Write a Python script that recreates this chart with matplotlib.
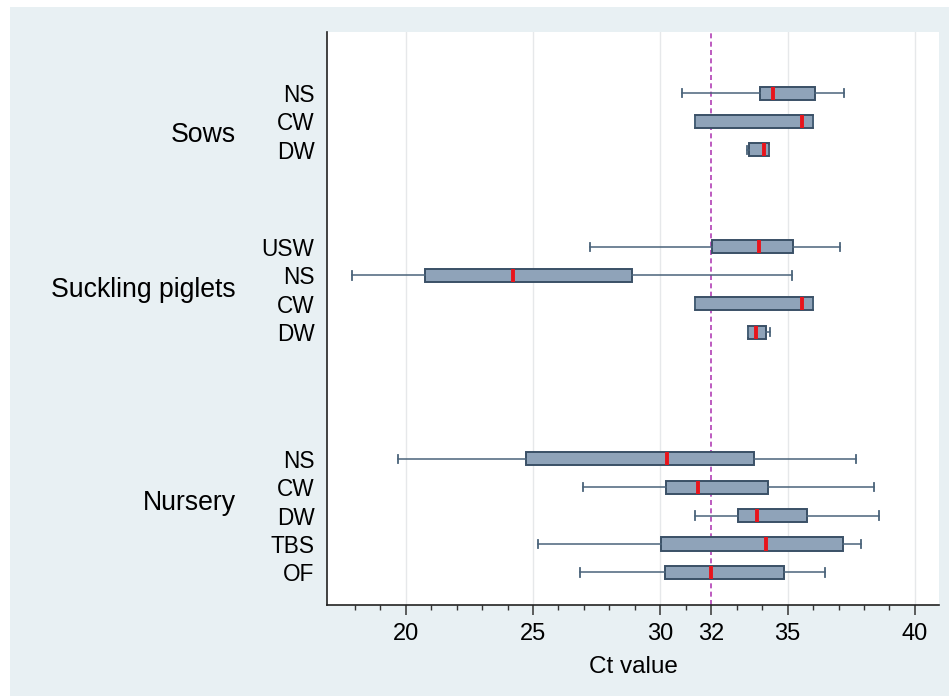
import numpy as np
import matplotlib.pyplot as plt
from matplotlib.patches import Rectangle

plt.rcParams['font.family'] = ['Liberation Sans', 'DejaVu Sans']

# groups and the sample types inside each group (top to bottom)
groups = ['Sows', 'Suckling piglets', 'Nursery']
group_rows = [['NS', 'CW', 'DW'],
              ['USW', 'NS', 'CW', 'DW'],
              ['NS', 'CW', 'DW', 'TBS', 'OF']]

# box statistics of the Ct values, one entry per row in the same order
whislo = [30.84, 31.37, 33.40, 27.24, 17.90, 31.37, 33.43, 19.71, 26.96, 31.38, 25.19, 26.86]
q1     = [33.92, 31.37, 33.49, 32.03, 20.74, 31.37, 33.43, 24.72, 30.23, 33.06, 30.02, 30.18]
median = [34.42, 35.58, 34.08, 33.88, 24.23, 35.57, 33.76, 30.25, 31.47, 33.80, 34.14, 31.98]
q3     = [36.09, 35.99, 34.26, 35.23, 28.88, 35.99, 34.14, 33.66, 34.22, 35.75, 37.17, 34.85]
whishi = [37.22, 35.99, 34.26, 37.07, 35.19, 35.99, 34.29, 37.68, 38.40, 38.57, 37.89, 36.48]

cutoff = 32
major_ticks = [20, 25, 30, 32, 35, 40]

# layout
group_start = [0, 5.42, 12.88]
group_label_y = [1.48, 6.94, 14.42]

positions = []
labels = []
for start, rows in zip(group_start, group_rows):
    for i, r in enumerate(rows):
        positions.append(start + i)
        labels.append(r)

stats = []
for i in range(len(positions)):
    stats.append(dict(whislo=whislo[i], q1=q1[i], med=median[i], q3=q3[i],
                      whishi=whishi[i], fliers=[]))

fig = plt.figure(figsize=(9.49, 6.96), dpi=100, facecolor='white')
fig.patches.append(Rectangle((10 / 949, 0), 1, 1 - 7 / 696, transform=fig.transFigure,
                             facecolor='#E8F0F3', edgecolor='none', zorder=-1))
ax = fig.add_axes([0.3446, 0.1307, 0.645, 0.8233])
ax.set_facecolor('white')

edge = '#3A5066'
wcol = '#4A637A'
ax.bxp(stats, positions=positions, vert=False, widths=0.46, capwidths=0.3,
       patch_artist=True, showfliers=False,
       boxprops=dict(facecolor='#8FA3B9', edgecolor=edge, linewidth=1.4),
       whiskerprops=dict(color=wcol, linewidth=1.1),
       capprops=dict(color=wcol, linewidth=1.3),
       medianprops=dict(color='#E8141B', linewidth=2.8, solid_capstyle='butt'))

for g in [20, 25, 30, 35, 40]:
    ax.axvline(g, color='#E6E8EA', linewidth=1.0, zorder=0)
ax.axvline(cutoff, color='#B23FB5', linewidth=1.2, linestyle=(0, (3, 2)), zorder=1)

ax.set_xlim(16.91, 40.95)
ax.set_ylim(18.03, -2.15)

ax.set_xticks(major_ticks)
ax.set_xticks([v for v in range(18, 41) if v not in major_ticks], minor=True)
ax.tick_params(axis='x', which='major', length=7, width=1.1, color='#333333',
               labelsize=17, pad=6)
ax.tick_params(axis='x', which='minor', length=3.6, width=1.0, color='#333333')
ax.set_xlabel('Ct value', fontsize=17.5, labelpad=8)

ax.set_yticks(positions, labels)
ax.tick_params(axis='y', length=0, labelsize=16.3, pad=9)

for name, y in zip(groups, group_label_y):
    ax.annotate(name, xy=(0, y), xycoords=('axes fraction', 'data'),
                xytext=(-91 * 0.72, 0), textcoords='offset points',
                ha='right', va='center', fontsize=19.2)

for s in ['top', 'right']:
    ax.spines[s].set_visible(False)
for s in ['left', 'bottom']:
    ax.spines[s].set_color('#222222')
    ax.spines[s].set_linewidth(1.2)

fig.savefig('out.png', dpi=100, facecolor=fig.get_facecolor())
